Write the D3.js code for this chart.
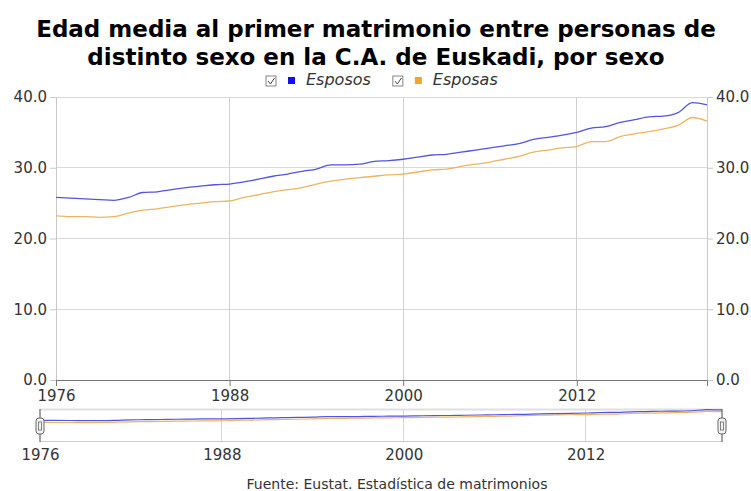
<!DOCTYPE html>
<html><head><meta charset="utf-8">
<script src="https://cdn.jsdelivr.net/npm/d3@7"></script>
<style>
body{margin:0;background:#fff}
svg{display:block}
text{font-family:"DejaVu Sans",Verdana,sans-serif}
</style>
</head><body>
<svg id="c" width="751" height="491"></svg>
<script>
const titleLines = ["Edad media al primer matrimonio entre personas de", "distinto sexo en la C.A. de Euskadi, por sexo"];
const source = "Fuente: Eustat. Estadística de matrimonios";
const seriesNames = ["Esposos", "Esposas"];
const years = [1976,1977,1978,1979,1980,1981,1982,1983,1984,1985,1986,1987,1988,1989,1990,1991,1992,1993,1994,1995,1996,1997,1998,1999,2000,2001,2002,2003,2004,2005,2006,2007,2008,2009,2010,2011,2012,2013,2014,2015,2016,2017,2018,2019,2020,2021];
const esposos = [25.8,25.7,25.6,25.5,25.4,25.8,26.5,26.6,26.9,27.2,27.4,27.6,27.7,28.0,28.4,28.8,29.1,29.5,29.8,30.4,30.4,30.5,30.9,31.0,31.2,31.5,31.8,31.9,32.2,32.5,32.8,33.1,33.4,34.0,34.3,34.6,35.0,35.6,35.8,36.4,36.8,37.2,37.3,37.8,39.2,38.9];
const esposas = [23.2,23.1,23.1,23.0,23.1,23.6,24.0,24.2,24.5,24.8,25.0,25.2,25.3,25.8,26.2,26.6,26.9,27.2,27.7,28.1,28.4,28.6,28.8,29.0,29.1,29.4,29.7,29.8,30.2,30.5,30.8,31.2,31.6,32.2,32.5,32.8,33.0,33.7,33.7,34.4,34.8,35.1,35.5,36.0,37.1,36.6];
const yTicks = [0,10,20,30,40];
const xTicks = [1976,1988,2000,2012];
const lineColors = ["#5454e2","#ebb561"];
const legendColors = ["#1010f0","#f2a431"];

const svg = d3.select("#c");

// title
svg.selectAll("text.title").data(titleLines).enter().append("text")
  .attr("x", 376).attr("y", (d,i)=>37+i*28)
  .attr("text-anchor","middle").attr("font-size","23px").attr("font-weight","bold").attr("fill","#000")
  .text(d=>d);

// legend
const lg = svg.append("g");
let lx = 266;
seriesNames.forEach((name,i)=>{
  const g = lg.append("g").attr("transform",`translate(${lx},80)`);
  g.append("rect").attr("x",0).attr("y",-4).attr("width",10).attr("height",10).attr("fill","#fff").attr("stroke","#666").attr("stroke-width",0.8);
  g.append("path").attr("d","M2,1 L4.5,4 L8.5,-2").attr("fill","none").attr("stroke","#444").attr("stroke-width",1);
  g.append("rect").attr("x",22).attr("y",-3).attr("width",7).attr("height",7).attr("fill",legendColors[i]);
  const t = g.append("text").attr("x",40).attr("y",5).attr("font-size","16px").attr("font-style","italic").attr("fill","#333").text(name);
  lx += 40 + t.node().getComputedTextLength() + 22;
});

// main scales
const x = d3.scaleLinear().domain([1976,2021]).range([56,707]);
const y = d3.scaleLinear().domain([0,40]).range([380,97]);

// grid
svg.append("g").selectAll("line").data(yTicks).enter().append("line")
  .attr("x1",56).attr("x2",707).attr("y1",d=>y(d)).attr("y2",d=>y(d))
  .attr("stroke","#d9d9d9").attr("stroke-width",1).attr("shape-rendering","crispEdges");
svg.append("g").selectAll("line").data(xTicks.slice(1)).enter().append("line")
  .attr("x1",d=>x(d)).attr("x2",d=>x(d)).attr("y1",97).attr("y2",380)
  .attr("stroke","#d0d0d0").attr("stroke-width",1).attr("shape-rendering","crispEdges");

// axes
const fmt = d3.format(".1f");
const yl = svg.append("g").attr("transform","translate(56,0)")
  .call(d3.axisLeft(y).tickValues(yTicks).tickFormat(fmt).tickSize(6).tickPadding(3));
const yr = svg.append("g").attr("transform","translate(707,0)")
  .call(d3.axisRight(y).tickValues(yTicks).tickFormat(fmt).tickSize(6).tickPadding(3));
const xb = svg.append("g").attr("transform","translate(0,380)")
  .call(d3.axisBottom(x).tickValues(xTicks).tickFormat(d3.format("d")).tickSize(6).tickPadding(4));
[yl,yr].forEach(a=>{
  a.select(".domain").attr("stroke","#c8c8c8");
  a.selectAll(".tick line").attr("stroke","#c8c8c8");
});
xb.select(".domain").attr("stroke","#777");
xb.selectAll(".tick line").attr("stroke","#777");
[yl,yr,xb].forEach(a=>a.selectAll("text").attr("font-size","15px").attr("fill","#333").attr("font-family","DejaVu Sans, Verdana, sans-serif"));

// lines
const series = [esposos, esposas];
const line = d3.line().curve(d3.curveMonotoneX).x((d,i)=>x(years[i])).y(d=>y(d));
series.forEach((s,i)=>{
  svg.append("path").datum(s).attr("d",line).attr("fill","none").attr("stroke",lineColors[i]).attr("stroke-width",1.3).attr("stroke-linejoin","round");
});

// navigator
const xn = d3.scaleLinear().domain([1976,2021]).range([40,722]);
const yn = d3.scaleLinear().domain([0,40]).range([441,409]);
const nav = svg.append("g");
nav.append("line").attr("x1",40).attr("x2",722).attr("y1",409.5).attr("y2",409.5).attr("stroke","#e0e0e0").attr("stroke-width",2);
nav.append("line").attr("x1",40).attr("x2",722).attr("y1",441.5).attr("y2",441.5).attr("stroke","#ccc");
nav.selectAll("line.g").data(xTicks.slice(1)).enter().append("line")
  .attr("x1",d=>xn(d)).attr("x2",d=>xn(d)).attr("y1",409).attr("y2",441)
  .attr("stroke","#d6d6d6").attr("shape-rendering","crispEdges");
const lineN = d3.line().curve(d3.curveMonotoneX).x((d,i)=>xn(years[i])).y(d=>yn(d));
series.slice().reverse().forEach((s,j)=>{
  const i = series.length-1-j;
  nav.append("path").datum(s).attr("d",lineN).attr("fill","none").attr("stroke",lineColors[i]).attr("stroke-width",1.2);
});
const navAxis = svg.append("g").attr("transform","translate(0,441)")
  .call(d3.axisBottom(xn).tickValues(xTicks).tickFormat(d3.format("d")).tickSize(0).tickPadding(8));
navAxis.select(".domain").remove();
navAxis.selectAll("text").attr("font-size","15px").attr("fill","#333").attr("font-family","DejaVu Sans, Verdana, sans-serif");
// handles
[1976,2021].forEach(yr=>{
  const hx = xn(yr);
  nav.append("line").attr("x1",hx).attr("x2",hx).attr("y1",409).attr("y2",442).attr("stroke","#666").attr("stroke-width",1.2);
  nav.append("rect").attr("x",hx-4).attr("y",418).attr("width",8).attr("height",16).attr("rx",3)
    .attr("fill","#f2f2f2").attr("stroke","#666").attr("stroke-width",1);
  nav.append("rect").attr("x",hx-1.5).attr("y",422).attr("width",3).attr("height",8).attr("fill","none").attr("stroke","#666").attr("stroke-width",0.8);
});

// source
svg.append("text").attr("x",397).attr("y",489).attr("text-anchor","middle").attr("font-size","14px").attr("fill","#333").text(source);
</script>
</body></html>
